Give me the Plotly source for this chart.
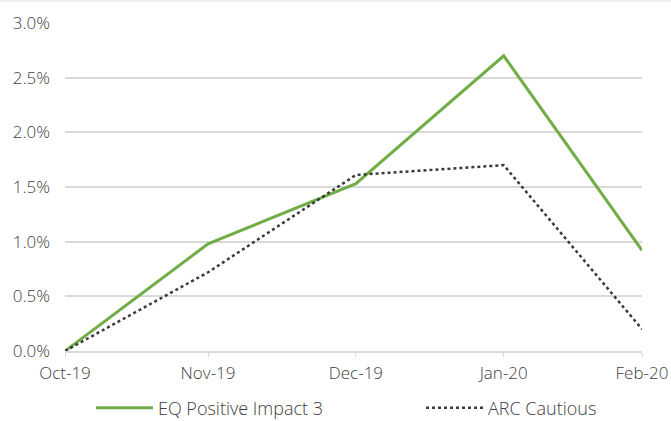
import plotly.graph_objects as go

# Month-end observation dates, shown as Mon-YY
dates = ["2019-10-31", "2019-11-30", "2019-12-31", "2020-01-31", "2020-02-29"]
month_labels = ["Oct-19", "Nov-19", "Dec-19", "Jan-20", "Feb-20"]
eq_positive_impact = [0.0, 0.0098, 0.0153, 0.0270, 0.0092]
arc_cautious = [0.0, 0.0072, 0.0161, 0.0170, 0.0020]
y_ticks = [0.0, 0.005, 0.010, 0.015, 0.020, 0.025, 0.030]

text_color = "#404040"
font = dict(family="Open Sans", size=17, color=text_color, weight=300)
legend_font = dict(family="Open Sans", size=18, color=text_color, weight=300)

fig = go.Figure()
fig.add_trace(go.Scatter(
    x=dates, y=eq_positive_impact, name="EQ Positive Impact 3",
    mode="lines", line=dict(color="#70AD47", width=3), legend="legend",
))
fig.add_trace(go.Scatter(
    x=dates, y=arc_cautious, name="ARC Cautious",
    mode="lines", line=dict(color="#3a3a3a", width=2.5, dash="dot"), legend="legend2",
))

legend_common = dict(orientation="h", xanchor="left", yanchor="middle", y=-0.174,
                     itemwidth=57, font=legend_font, bgcolor="rgba(0,0,0,0)")

fig.update_layout(
    width=671, height=421,
    margin=dict(l=65, r=29, t=23, b=70, autoexpand=False),
    paper_bgcolor="white", plot_bgcolor="white",
    font=font,
    showlegend=True,
    legend=dict(x=(91 - 65) / 577, **legend_common),
    legend2=dict(x=(421 - 65) / 577, **legend_common),
    xaxis=dict(
        type="date", range=[dates[0], dates[-1]], tickvals=dates, ticktext=month_labels,
        showgrid=False, showline=True, linecolor="#d9d9d9", linewidth=1.5,
        ticks="outside", tickcolor="#d9d9d9", ticklen=4, tickfont=font,
        ticklabelstandoff=2, zeroline=False,
    ),
    yaxis=dict(
        range=[0, 0.03], tickvals=y_ticks, tickformat=".1%", showgrid=True,
        gridcolor="#d9d9d9", gridwidth=1.5, zeroline=False, showline=False,
        tickfont=font, ticks="", ticklabelstandoff=14,
    ),
    shapes=[dict(type="rect", xref="paper", yref="paper", x0=-0.2, x1=1.2,
                 y0=1.0 + 21 / 328, y1=1.2, fillcolor="#eeeeee", line=dict(width=0),
                 layer="below")],
)

fig.write_html("out.html")
